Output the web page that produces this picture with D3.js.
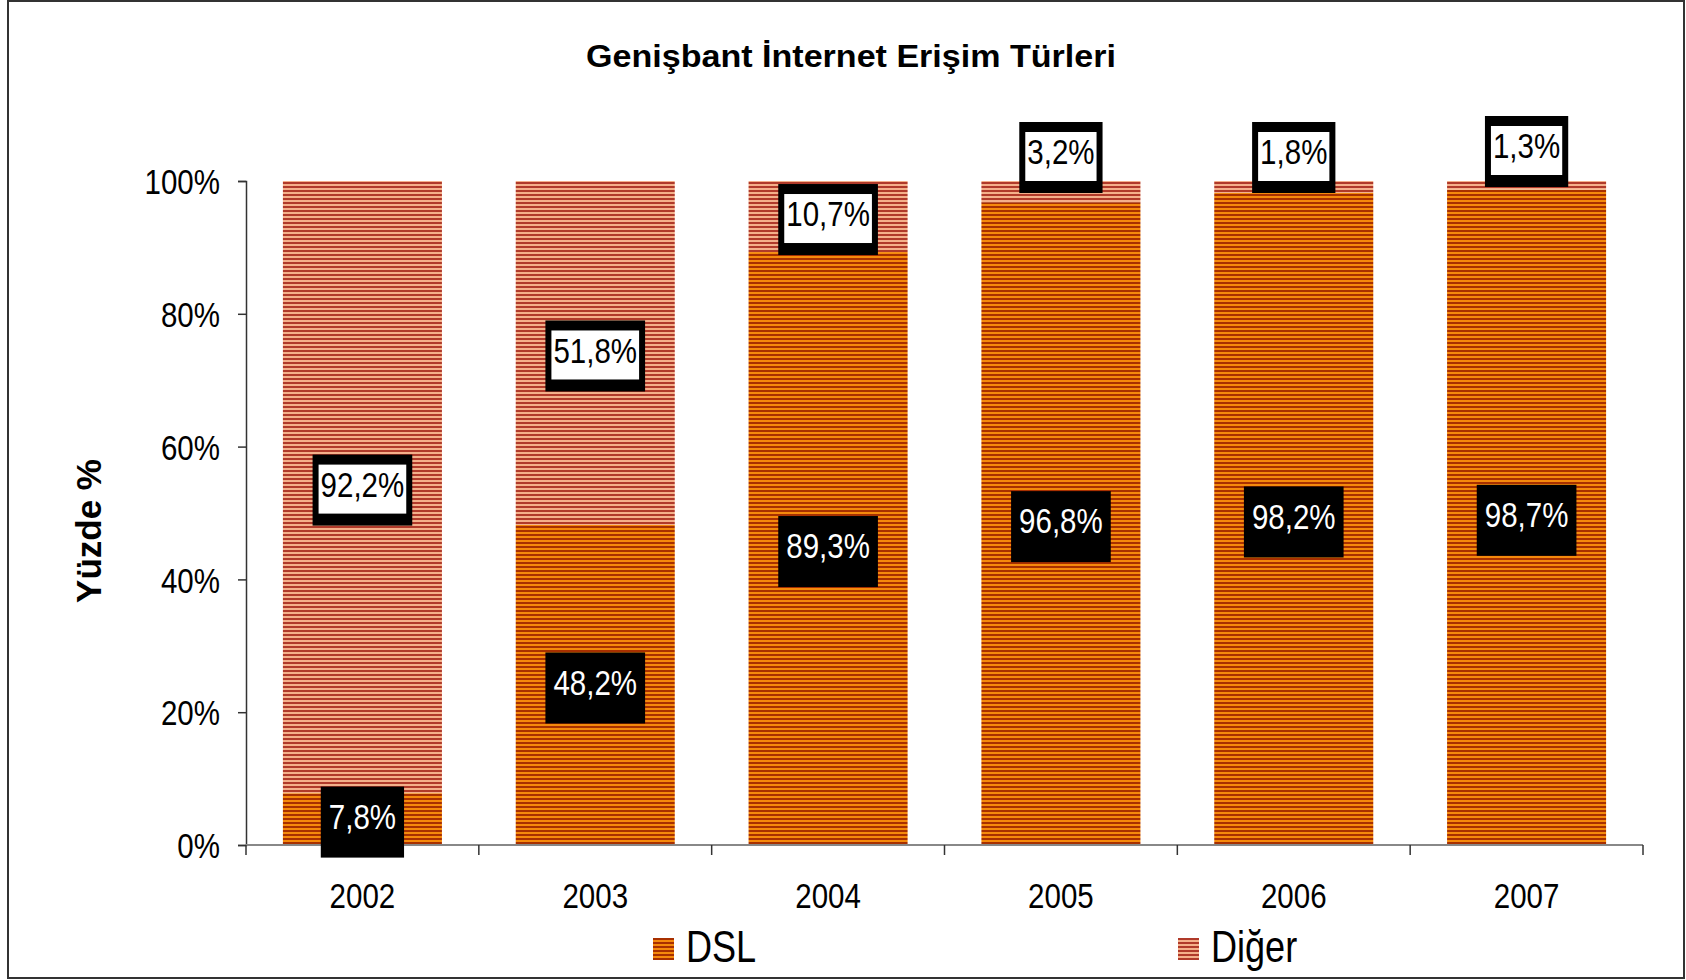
<!DOCTYPE html>
<html>
<head>
<meta charset="utf-8">
<script src="https://cdn.jsdelivr.net/npm/d3@7"></script>
<style>
  body { margin: 0; background: #fff; }
  svg { display: block; }
  text { font-family: "Liberation Sans", Arial, sans-serif; }
</style>
</head>
<body>
<svg id="chart"></svg>
<script>
// Data
const years = ["2002", "2003", "2004", "2005", "2006", "2007"];
const dsl = [7.8, 48.2, 89.3, 96.8, 98.2, 98.7];
const diger = [92.2, 51.8, 10.7, 3.2, 1.8, 1.3];
const yTicks = [0, 20, 40, 60, 80, 100];
const seriesNames = ["DSL", "Diğer"];

const width = 1686;
const height = 980;
const squeeze = 0.82; // narrow look of the original fonts

const svg = d3.select("#chart")
    .attr("width", width)
    .attr("height", height);

// stripe patterns
const defs = svg.append("defs");
function stripes(id, light, dark) {
    const p = defs.append("pattern")
        .attr("id", id)
        .attr("patternUnits", "userSpaceOnUse")
        .attr("width", 4).attr("height", 4);
    p.append("rect").attr("width", 4).attr("height", 2).attr("fill", light);
    p.append("rect").attr("y", 2).attr("width", 4).attr("height", 2).attr("fill", dark);
}
stripes("dslPat", "#f58a0c", "#a83000");
stripes("digerPat", "#f4b08a", "#b03a2a");

// narrow text helper
function narrowText(sel, px, py, size, txt, anchor) {
    return sel.append("text")
        .attr("transform", `translate(${px},${py}) scale(${squeeze},1)`)
        .attr("text-anchor", anchor || "middle")
        .style("font-size", size + "px")
        .text(txt);
}

// outer frame
svg.append("rect")
    .attr("x", 8).attr("y", 1)
    .attr("width", 1676).attr("height", 977)
    .attr("fill", "none").attr("stroke", "#333").attr("stroke-width", 2);

const x = d3.scaleBand()
    .domain(years)
    .range([246, 1643])
    .paddingInner(0.317)
    .paddingOuter(0.1585);

const y = d3.scaleLinear()
    .domain([0, 100])
    .range([845, 181]);

// title
svg.append("text")
    .attr("x", 851).attr("y", 67)
    .attr("text-anchor", "middle")
    .attr("textLength", 530)
    .attr("lengthAdjust", "spacingAndGlyphs")
    .style("font-weight", "bold")
    .style("font-size", "31px")
    .text("Genişbant İnternet Erişim Türleri");

// y axis title
svg.append("text")
    .attr("transform", "translate(101,531) rotate(-90)")
    .attr("text-anchor", "middle")
    .style("font-weight", "bold")
    .style("font-size", "35px")
    .text("Yüzde %");

// stacked data
const stackData = years.map((yr, i) => ({ year: yr, DSL: dsl[i], "Diğer": diger[i] }));
const stack = d3.stack().keys(seriesNames)(stackData);
const fills = { "DSL": "url(#dslPat)", "Diğer": "url(#digerPat)" };

svg.append("g").selectAll("g")
    .data(stack)
    .join("g")
    .attr("fill", d => fills[d.key])
    .selectAll("rect")
    .data(d => d)
    .join("rect")
    .attr("x", d => x(d.data.year))
    .attr("width", x.bandwidth())
    .attr("y", d => y(d[1]))
    .attr("height", d => y(d[0]) - y(d[1]));

// y axis
const yAxis = svg.append("g")
    .attr("transform", "translate(246,0)")
    .call(d3.axisLeft(y).tickValues(yTicks).tickSize(8).tickFormat(d => d + "%"));
yAxis.select(".domain").attr("stroke", "#333").attr("stroke-width", 1.5);
yAxis.selectAll(".tick line").attr("stroke", "#333").attr("stroke-width", 1.5);
yAxis.selectAll(".tick text")
    .attr("x", -26 / squeeze)
    .attr("transform", `scale(${squeeze},1)`)
    .style("font-size", "36px")
    .style("font-family", "Liberation Sans, Arial, sans-serif")
    .attr("fill", "#000")
    .attr("dy", "0.35em");

// x axis (ticks at band boundaries)
const xAxis = svg.append("g").attr("transform", "translate(0,845)");
xAxis.append("line")
    .attr("x1", 246).attr("x2", 1643)
    .attr("stroke", "#888").attr("stroke-width", 2);
const bounds = years.map(d => x(d) - x.step() * x.paddingInner() / 2).concat([1643]);
xAxis.selectAll("line.tk")
    .data(bounds)
    .join("line")
    .attr("class", "tk")
    .attr("x1", d => d).attr("x2", d => d)
    .attr("y1", 0).attr("y2", 10)
    .attr("stroke", "#333").attr("stroke-width", 1.5);
years.forEach(yr => narrowText(xAxis, x(yr) + x.bandwidth() / 2, 63, 36, yr));

// data labels
const fmt = v => d3.format(".1f")(v).replace(".", ",") + "%";
const labels = svg.append("g");
stack.forEach(series => {
    series.forEach((d, i) => {
        const v = d[1] - d[0];
        const cx = x(d.data.year) + x.bandwidth() / 2;
        let cy = y((d[0] + d[1]) / 2) + 3;
        if (v < 5) cy = y(100) + 12 - 35.5 - (v < 1.5 ? 6 : 0);
        const g = labels.append("g");
        const t = narrowText(g, cx, cy - 6, 36, fmt(v)).attr("dy", "0.35em");
        const tw = t.node().getComputedTextLength() * squeeze;
        const bw = tw + 16, bh = 71;
        g.insert("rect", "text")
            .attr("x", cx - bw / 2).attr("y", cy - bh / 2)
            .attr("width", bw).attr("height", bh)
            .attr("fill", "#000");
        if (series.key === "DSL") {
            t.attr("fill", "#fff");
        } else {
            g.insert("rect", "text")
                .attr("x", cx - bw / 2 + 6).attr("y", cy - bh / 2 + 10)
                .attr("width", bw - 12).attr("height", bh - 22)
                .attr("fill", "#fff");
            t.attr("fill", "#000");
        }
    });
});

// legend
const legendX = [653, 1178];
const legend = svg.append("g");
seriesNames.forEach((name, i) => {
    legend.append("rect")
        .attr("x", legendX[i]).attr("y", 938)
        .attr("width", 21).attr("height", 22)
        .attr("fill", fills[name]);
    narrowText(legend, legendX[i] + 33, 962, 44, name, "start");
});
</script>
</body>
</html>
